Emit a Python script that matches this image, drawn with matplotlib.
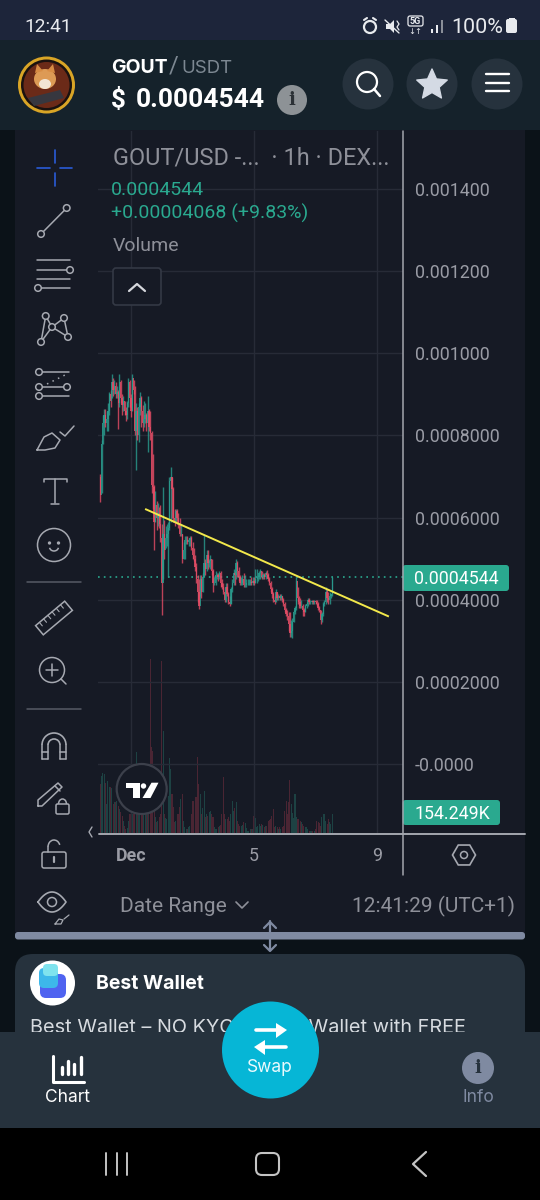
import matplotlib
matplotlib.use("Agg")
import matplotlib.pyplot as plt
from matplotlib.patches import Circle, FancyBboxPatch, Polygon, Rectangle, Ellipse, Arc, RegularPolygon
import numpy as np

W, H = 540, 1200

# prices in units of 0.0001, one candle per hour starting 30 Nov
highs = [7.07,7.9,8.5,8.65,8.65,8.6,8.8,9.05,9.1,9.5,
         9.4,9.35,9.3,9.2,9.1,9.5,9.35,9.0,8.95,8.85,
         8.7,8.85,9.4,9.35,9.0,9.5,9.35,9.2,8.8,8.7,
         8.8,9.05,8.95,8.75,8.85,8.8,8.55,8.95,8.65,8.6,
         8.1,7.55,6.8,6.65,6.4,6.35,6.25,6.3,5.85,6.75,
         5.95,5.8,5.85,5.9,7.0,7.23,7.0,6.75,6.2,6.2,
         6.2,6.1,6.0,5.85,5.6,5.4,5.55,5.55,5.55,5.5,
         5.55,5.55,5.4,5.25,5.1,4.9,4.6,4.5,4.6,4.6,
         4.65,5.58,5.0,5.2,5.2,5.0,5.1,5.0,4.75,4.55,
         4.7,4.65,4.65,4.7,4.7,4.5,4.4,4.3,4.4,4.4,
         4.2,4.1,4.3,4.5,4.75,4.7,5.0,4.95,4.8,4.6,
         4.55,4.6,4.65,4.6,4.5,4.5,4.5,4.5,4.55,4.55,
         4.55,4.75,4.75,4.6,4.7,4.75,4.7,4.65,4.65,4.7,
         4.72,4.65,4.55,4.45,4.3,4.2,4.1,4.25,4.2,4.15,
         4.15,4.15,4.1,4.05,3.95,3.8,3.75,3.7,3.7,3.5,
         3.55,3.75,3.85,4.55,4.3,4.1,4.05,4.0,3.9,3.8,
         3.9,3.95,4.05,4.05,4.0,4.0,4.0,4.0,4.0,4.0,
         3.95,3.85,3.75,3.7,3.95,4.0,4.3,4.25,4.2,4.2,
         4.15,4.55]
lows = [6.38,6.6,7.8,8.0,8.2,8.1,8.1,8.5,8.7,8.9,
        8.95,9.0,8.9,8.9,8.15,8.7,8.8,8.5,8.6,8.5,
        8.35,8.4,8.7,8.7,8.45,8.6,9.0,8.0,7.15,7.9,
        7.85,8.5,8.2,8.1,8.2,8.3,8.1,7.6,8.1,7.9,
        6.6,6.2,5.2,5.9,5.7,5.8,5.75,5.4,3.63,4.5,
        5.0,5.25,5.3,4.56,5.7,5.9,6.0,5.9,5.8,5.9,
        5.85,5.75,5.55,5.55,4.9,5.0,5.0,5.35,5.35,5.3,
        5.3,5.2,5.0,4.95,4.7,4.4,3.95,3.78,4.1,4.05,
        4.2,4.55,4.6,4.7,4.75,4.8,4.75,4.6,4.2,4.35,
        4.35,4.5,4.45,4.5,4.3,4.25,4.15,3.95,3.95,4.1,
        3.9,3.85,3.9,4.2,4.35,4.35,4.5,4.55,4.45,4.35,
        4.35,4.35,4.3,4.3,4.3,4.35,4.35,4.35,4.35,4.35,
        4.35,4.4,4.4,4.45,4.5,4.5,4.5,4.5,4.5,4.5,
        4.55,4.45,4.35,4.2,4.05,3.95,3.9,3.95,4.0,4.0,
        4.0,4.0,3.95,3.85,3.7,3.6,3.5,3.25,3.1,3.1,
        3.08,3.45,3.65,3.75,3.9,3.8,3.8,3.8,3.6,3.6,
        3.7,3.8,3.85,3.9,3.9,3.9,3.9,3.9,3.9,3.85,
        3.75,3.7,3.4,3.45,3.6,3.85,3.9,3.95,3.9,3.9,
        4.05,4.1]
closes = [6.55,7.8,8.3,8.5,8.3,8.4,8.6,9.0,8.85,9.3,
          9.1,9.2,9.0,9.05,8.8,9.3,8.9,8.75,8.85,8.6,
          8.5,8.8,9.3,8.9,8.6,9.4,9.1,8.1,8.6,8.0,
          8.7,8.9,8.6,8.3,8.4,8.5,8.3,8.6,8.2,8.05,
          6.8,6.75,5.9,6.3,6.0,6.1,5.85,5.5,4.4,5.6,
          5.2,5.5,5.6,5.75,6.9,7.0,6.7,6.0,5.9,6.15,
          6.0,5.85,5.6,5.6,5.0,5.2,5.45,5.45,5.4,5.45,
          5.5,5.25,5.1,5.0,4.8,4.5,4.2,3.85,4.5,4.2,
          4.55,4.9,4.75,5.1,4.9,4.95,5.0,4.7,4.4,4.4,
          4.6,4.6,4.55,4.65,4.4,4.3,4.2,4.0,4.3,4.15,
          3.95,3.9,4.25,4.4,4.65,4.6,4.9,4.7,4.55,4.4,
          4.4,4.5,4.35,4.35,4.4,4.4,4.4,4.42,4.4,4.45,
          4.4,4.5,4.5,4.55,4.65,4.7,4.55,4.6,4.55,4.65,
          4.6,4.5,4.4,4.25,4.15,4.0,3.95,4.2,4.05,4.1,
          4.05,4.1,4.0,3.9,3.75,3.65,3.6,3.4,3.2,3.25,
          3.45,3.7,3.8,4.45,4.05,3.95,3.85,3.85,3.75,3.7,
          3.85,3.9,4.0,3.95,3.95,3.97,3.95,3.97,3.95,3.9,
          3.8,3.75,3.5,3.65,3.9,3.95,4.2,4.05,4.0,4.1,
          4.137,4.544]
first_open = 7.0

# volume in thousands
volumes = [392,459,480,470,400,232,420,370,365,360,
           230,245,250,260,220,190,165,140,100,60,
           35,40,100,150,150,150,150,160,645,150,
           150,150,150,150,150,150,150,150,200,1392,
           685,660,300,125,85,100,130,150,1380,820,
           150,120,115,300,600,510,310,205,85,95,
           150,150,205,270,315,100,45,30,30,45,
           60,150,260,260,285,290,605,390,310,150,
           200,335,125,150,140,170,180,150,125,45,
           35,30,45,55,65,150,445,150,110,110,
           125,100,150,260,180,200,245,100,70,60,
           60,65,85,80,40,20,20,30,35,30,
           140,120,45,55,75,60,70,65,45,55,
           60,95,105,110,140,190,50,60,50,35,
           45,35,45,60,180,255,155,250,425,230,
           160,120,310,125,115,110,100,90,75,60,
           50,45,30,20,20,20,20,20,30,95,
           90,80,60,125,150,155,100,70,110,90,
           70,154.249]

price_ticks = [0.0014, 0.0012, 0.0010, 0.0008, 0.0006, 0.0004, 0.0002, 0.0]
price_labels = ["0.001400", "0.001200", "0.001000", "0.0008000", "0.0006000",
                "0.0004000", "0.0002000", "-0.0000"]
date_ticks = [24, 120, 216]
date_labels = ["Dec", "5", "9"]
trend_x = [35.7, 224.6]
trend_y = [6.2, 3.6]

BG = "#161a25"
GREEN = "#2a9d8f"
RED = "#e54d66"
GRID = "#272b37"
ICON = "#a6a9b1"
GREY_TXT = "#8e9099"
AXIS_TXT = "#9a9ca5"
TEAL = "#2aa98f"
PANEL = "#26323d"
SANS = ["Roboto", "DejaVu Sans"]
ROUND = ["Inter", "DejaVu Sans"]

plt.rcParams["font.family"] = SANS

fig = plt.figure(figsize=(W / 100, H / 100), dpi=100, facecolor="#0b1218")


def overlay(z):
    a = fig.add_axes([0, 0, 1, 1], zorder=z)
    a.set_xlim(0, W)
    a.set_ylim(H, 0)
    a.axis("off")
    return a


ui = overlay(0)
top = overlay(5)


def line(pts, color=ICON, lw=1.1, a=ui, z=5, **kw):
    xs, ys = zip(*pts)
    a.plot(xs, ys, color=color, lw=lw, solid_capstyle="round", zorder=z, **kw)


def ring(x, y, r, color=ICON, lw=1.1, fill="none", a=ui, z=6):
    a.add_patch(Circle((x, y), r, fc=fill, ec=color, lw=lw, zorder=z))


def box(x0, y0, x1, y1, color, rad=0, a=ui, z=1, ec="none", lw=0):
    if rad:
        a.add_patch(FancyBboxPatch((x0 + rad, y0 + rad), x1 - x0 - 2 * rad, y1 - y0 - 2 * rad,
                                   boxstyle="round,pad=%f,rounding_size=%f" % (rad, rad),
                                   fc=color, ec=ec, lw=lw, zorder=z))
    else:
        a.add_patch(Rectangle((x0, y0), x1 - x0, y1 - y0, fc=color, ec=ec, lw=lw, zorder=z))


def label(x, y, s, size, color="white", a=ui, ha="left", family=None, weight="normal", z=8):
    # va center sits a bit high for these fonts
    a.text(x, y + 1.3, s, fontsize=size, color=color, ha=ha, va="center", zorder=z,
           family=family or SANS, fontweight=weight)


# page blocks
box(0, 0, W, 40, "#1d253a")
box(0, 40, W, 130, "#15222b", z=2)
box(15, 130, 525, 934, BG)
box(15, 932, 525, 939.5, "#7f8aa1", rad=3, z=2)
box(15, 954, 525, 1060, PANEL, rad=18, z=1)
box(0, 1032, W, 1128, PANEL, z=4)
box(0, 1128, W, H, "black", z=4)

# status bar
label(24, 26, "12:41", 13.8, "#e8eaee")
label(451, 26, "100%", 15.4, "#e8eaee")
box(506, 19, 517, 33, "#e8eaee", rad=2, z=5)
box(508.5, 17.5, 514.5, 20, "#e8eaee", z=5)
ring(370, 27, 6, "#e8eaee", 1.6)
line([(364, 20), (367, 18)], "#e8eaee", 1.5)
line([(373, 18), (376, 20)], "#e8eaee", 1.5)
ui.add_patch(Polygon([(386, 24), (390, 24), (394, 20), (394, 33), (390, 29), (386, 29)], fc="#e8eaee", zorder=5))
line([(385, 20), (399, 33)], "#e8eaee", 1.0)
line([(397, 21), (399, 24), (397, 27), (399, 30)], "#e8eaee", 0.9)
box(408, 16, 423, 26, "none", rad=2, ec="#e8eaee", lw=0.9, z=5)
label(415.5, 20, "5G", 6.5, "#e8eaee", ha="center", weight="bold")
label(415.5, 30, "↓↑", 6, "#e8eaee", ha="center", family=["DejaVu Sans"])
for i, (bx, bh) in enumerate(zip([431, 436, 441], [4, 8, 13])):
    box(bx, 33 - bh, bx + 2, 33, "#e8eaee" if i < 2 else "#8a8f99", z=5)

# header
ring(46.5, 85, 28.5, "#d9a526", 0, "#d9a526")
ring(46.5, 85, 25.5, "#111111", 0, "#1a1210")
ring(46.5, 85, 23, "#6b2a18", 0, "#6b2a18")
ui.add_patch(Ellipse((45, 79), 22, 20, fc="#dd9a55", zorder=7))
ui.add_patch(Ellipse((45, 84), 12, 10, fc="#f3e6d4", zorder=8))
ui.add_patch(Polygon([(35, 73), (37, 64), (43, 71)], fc="#d88c45", zorder=7))
ui.add_patch(Polygon([(47, 71), (53, 64), (55, 73)], fc="#d88c45", zorder=7))
ui.add_patch(Polygon([(28, 98), (60, 90), (64, 98), (34, 106)], fc="#37373f", zorder=8))

label(111, 67, "GOUT", 14, "white", family=ROUND, weight="bold")
label(169, 65, "/", 17, "#7d8892")
label(181, 67, "USDT", 13.4, "#7d8892", family=ROUND)
label(111, 99, "$", 18.6, "white", weight="bold")
label(136, 99, "0.0004544", 19, "white", weight="bold")
ring(292, 100, 15, "#8d9296", 0, "#8d9296")
label(292, 99, "i", 13, "#2b3136", ha="center", family=["DejaVu Serif"], weight="bold")
for cx in [368, 432, 497]:
    ring(cx, 84, 25.5, PANEL, 0, PANEL, z=3)
ring(367, 82, 10, "white", 1.6)
line([(374, 89), (380, 96)], "white", 1.8)
star_a = np.deg2rad(np.arange(-90, 270, 36))
star_r = np.where(np.arange(10) % 2 == 0, 16, 7.5)
ui.add_patch(Polygon(np.c_[432 + star_r * np.cos(star_a), 85 + star_r * np.sin(star_a)],
                     fc="#d4dae4", ec="#d4dae4", lw=1, joinstyle="round", zorder=6))
for hy in [74, 82.5, 91]:
    line([(486, hy), (509, hy)], "white", 1.7)

# price pane, sharing pixel position with the volume pane
px_l, px_r, px_t, px_b = 98, 402.5, 131, 833
rect = [px_l / W, 1 - px_b / H, (px_r - px_l) / W, (px_b - px_t) / H]
per_hour = 123 / 96
idx_left = (px_l - 131) / per_hour + 24
idx_right = (px_r - 131) / per_hour + 24
per_price = 575 / 0.0014

ax = fig.add_axes(rect, zorder=2)
ax.patch.set_visible(False)
ax.set_xlim(idx_left, idx_right)
ax.set_ylim((764 - px_b) / per_price, (764 - px_t) / per_price)
for s in ax.spines.values():
    s.set_visible(False)
ax.yaxis.tick_right()
ax.set_yticks(price_ticks)
ax.set_yticklabels(price_labels)
ax.set_xticks(date_ticks)
ax.set_xticklabels(date_labels)
ax.get_xticklabels()[0].set_fontweight("bold")
ax.tick_params(axis="y", length=0, pad=9, labelsize=12.8, labelcolor=AXIS_TXT)
ax.tick_params(axis="x", length=0, pad=10, labelsize=12.8, labelcolor=AXIS_TXT)
ax.grid(True, color=GRID, lw=1.0)
ax.set_axisbelow(True)

hi = np.array(highs) * 1e-4
lo = np.array(lows) * 1e-4
cl = np.array(closes) * 1e-4
op = np.r_[first_open * 1e-4, cl[:-1]]
hours = np.arange(len(cl))
colors = [GREEN if c >= o else RED for o, c in zip(op, cl)]

ax.vlines(hours, lo, hi, colors=colors, lw=1.0, alpha=0.8, zorder=3)
ax.bar(hours, np.abs(cl - op), bottom=np.minimum(op, cl), width=1.0, color=colors, alpha=0.85, zorder=3)
ax.plot(trend_x, np.array(trend_y) * 1e-4, color="#f2e84b", lw=1.4, zorder=4)
ax.axhline(cl[-1], color=TEAL, lw=1.2, ls=(0, (1, 2.5)), zorder=2)

vol = fig.add_axes(rect, zorder=1)
vol.patch.set_visible(False)
vol.axis("off")
vol.set_xlim(idx_left, idx_right)
vol.set_ylim(0, (px_b - px_t) * 8)
vol_colors = ["#1d4243" if c >= o else "#4a2533" for o, c in zip(op, cl)]
vol.bar(hours, volumes, width=0.8, color=vol_colors)

# legend text over the chart
label(113, 157, "GOUT/USD -...  · 1h · DEX...", 16.9, GREY_TXT, a=top)
label(111, 189, "0.0004544", 14, TEAL, a=top)
label(111, 212, "+0.00004068 (+9.83%)", 14, TEAL, a=top)
label(113, 245, "Volume", 14, GREY_TXT, a=top)
box(113, 268, 161, 305, BG, rad=3, a=top, ec="#343945", lw=1.2)
line([(129, 291), (137, 284), (145, 291)], "#d5d7dc", 1.6, a=top, z=9)

# axis lines
line([(402.7, 131), (402.7, 875)], "#a3a6ae", 1.1, a=top)
line([(99, 833.5), (525, 833.5)], "#a3a6ae", 1.4, a=top)

# value tags
box(402.7, 565, 509, 591, TEAL, rad=3, a=top)
label(414, 577.5, "0.0004544", 12.8, "white", a=top)
box(402.7, 800, 500, 825, TEAL, rad=3, a=top)
label(414, 812.5, "154.249K", 12.8, "white", a=top)

# tradingview badge
ring(141.7, 789, 25, "#3c404b", 1.6, BG, a=top, z=7)
top.add_patch(Polygon([(126, 782.7), (140, 782.7), (140, 798), (133, 798), (133, 788), (126, 788)], fc="white", zorder=8))
ring(143.5, 786, 2.7, "white", 0, "white", a=top, z=8)
top.add_patch(Polygon([(142.5, 798), (150.5, 798), (158.5, 782.7), (151.5, 782.7)], fc="white", zorder=8))
line([(92, 827), (89, 832), (92, 837)], ICON, 1.0, a=top)

# toolbar, crosshair
BLUE = "#2a5bd7"
for seg in [[(54.7, 150), (54.7, 163)], [(54.7, 173), (54.7, 186)],
            [(37, 168), (50, 168)], [(59.5, 168), (72, 168)]]:
    line(seg, BLUE, 1.2)
# trend line
line([(41, 234), (66.7, 208)])
ring(66.7, 208, 3.3, fill=BG)
ring(41, 234, 3.3, fill=BG)
# parallel lines
line([(37, 260), (70, 260)])
line([(37, 270), (67, 270)])
ring(70, 270, 3.3, fill=BG)
line([(37, 279), (70, 279)])
line([(38, 288), (70, 288)])
ring(38, 288, 3.3, fill=BG)
# pattern
pp = [(41, 342), (45.7, 316), (52, 327), (64, 318), (68, 337), (52, 327), (41, 342)]
line(pp)
for p in pp[:5]:
    ring(p[0], p[1], 3.3, fill=BG)
# forecast
line([(39, 372), (69, 372)])
ring(39, 372, 3.3, fill=BG)
line([(47, 384), (65, 375)], ls=(0, (1, 3)))
line([(39, 387), (67, 387)])
ring(39, 387, 3.3, fill=BG)
ring(67, 387, 3.3, fill=BG)
line([(39, 396), (69, 396)])
ring(39, 396, 3.3, fill=BG)
# brush
line([(37, 450), (44, 437), (52, 433), (60, 440), (55, 448), (45, 450), (37, 450)])
line([(60, 432), (65, 436), (74, 426)])
# text tool
line([(44, 482), (44, 479), (67, 479), (67, 482)])
line([(55, 479), (55, 503)])
line([(51, 504), (59, 504)])
# smile
ring(54, 545, 16.5)
ring(49.5, 543, 0.9, fill=ICON)
ring(58.5, 543, 0.9, fill=ICON)
ui.add_patch(Arc((54, 547), 9, 8, theta1=10, theta2=170, ec=ICON, lw=1.1, zorder=6))
line([(27, 581.5), (81, 581.5)], "#565a65", 1.1)
# ruler
ui.add_patch(Rectangle((-19, -6), 38, 12, fc="none", ec=ICON, lw=1.1, zorder=6,
                       transform=matplotlib.transforms.Affine2D().rotate_deg(-40).translate(54, 618) + ui.transData))
for t in np.arange(-14, 18, 5.5):
    c, s = np.cos(np.deg2rad(-40)), np.sin(np.deg2rad(-40))
    line([(54 + t * c + 6 * s, 618 + t * s - 6 * c), (54 + t * c + 1.5 * s, 618 + t * s - 1.5 * c)], lw=0.8)
# zoom in
ring(52, 670, 12.5)
line([(46, 670), (58, 670)])
line([(52, 664), (52, 676)])
line([(61, 679), (66, 684)])
line([(27, 709), (81, 709)], "#565a65", 1.1)
# magnet
ui.add_patch(Arc((54, 745), 24, 24, theta1=180, theta2=360, ec=ICON, lw=1.2, zorder=6))
ui.add_patch(Arc((54, 745), 12, 12, theta1=180, theta2=360, ec=ICON, lw=1.2, zorder=6))
for mx in [42, 48, 60, 66]:
    line([(mx, 745), (mx, 759)])
line([(42, 759), (48, 759)])
line([(60, 759), (66, 759)])
line([(42, 752), (48, 752)])
line([(60, 752), (66, 752)])
# pencil with lock
line([(38, 806), (38, 800), (58, 783), (62, 787), (42, 806), (38, 806)])
line([(55, 786), (60, 791)])
box(56, 804, 69, 814, BG, rad=1.5, ec=ICON, lw=1.1, z=7)
ui.add_patch(Arc((62.5, 804), 8, 10, theta1=180, theta2=360, ec=ICON, lw=1.1, zorder=7))
# open lock
box(42, 852, 66, 868, "none", rad=2, ec=ICON, lw=1.1, z=6)
ui.add_patch(Arc((54, 847), 12, 14, theta1=180, theta2=340, ec=ICON, lw=1.1, zorder=6))
line([(48, 847), (48, 852)])
line([(54, 857), (54, 862)], lw=1.6)
# eye
eye_x = np.linspace(-1, 1, 31)
eye_y = 10 * (1 - eye_x ** 2)
line(list(zip(52 + 14 * eye_x, 902 - eye_y)) + list(zip(52 - 14 * eye_x, 902 + eye_y[::-1])), lw=1.2)
ring(52, 902, 4.5)
line([(55, 924), (59, 919), (63, 920), (61, 924), (55, 924)], lw=0.9)
line([(64, 919), (69, 915)], lw=0.9)

# bottom of the chart
label(120, 905, "Date Range", 15, GREY_TXT, a=top)
line([(236, 902), (242, 908), (248, 902)], GREY_TXT, 1.2, a=top)
label(515, 905, "12:41:29 (UTC+1)", 15, GREY_TXT, a=top, ha="right")
top.add_patch(RegularPolygon((464, 855), 6, radius=11.5, orientation=np.pi / 2, fc="none", ec=ICON, lw=1.2))
ring(464, 855, 3.5, a=top)

# divider handle
line([(270, 921), (270, 950)], "#7f8aa1", 1.6, a=top)
line([(264, 928), (270, 922), (276, 928)], "#7f8aa1", 1.6, a=top)
line([(264, 945), (270, 951), (276, 945)], "#7f8aa1", 1.6, a=top)

# ad card
ring(52.5, 983, 22.5, "white", 0, "white", z=2)
box(40, 974, 66, 998, "#4f63f0", rad=6, z=3)
box(39, 968, 58, 988, "#3db8ea", rad=5, z=3)
box(43, 964, 58, 976, "#7fe3ee", rad=4, z=3)
label(96, 983, "Best Wallet", 14, "white", family=ROUND, weight="bold")
label(30, 1027, "Best Wallet – NO KYC Crypto Wallet with FREE", 14.3, "#d7dbe0", family=ROUND, z=2)

# bottom navigation
ring(270.5, 1050, 48.5, "#06b6d6", 0, "#06b6d6", z=6)
line([(256, 1030), (282, 1030)], "white", 2.6, z=7)
top.add_patch(Polygon([(276, 1023), (287, 1030), (276, 1038)], fc="white", zorder=8))
line([(259, 1047), (286, 1047)], "white", 2.6, z=7)
top.add_patch(Polygon([(265, 1040), (254, 1047), (265, 1055)], fc="white", zorder=8))
label(270, 1066, "Swap", 12.5, "#eafafd", ha="center", family=ROUND)

line([(53, 1056), (53, 1082), (84, 1082)], "white", 2.2)
for bx, bt in zip([62, 68, 74, 81], [1067, 1061, 1064, 1057]):
    line([(bx, bt), (bx, 1074)], "white", 2.4)
label(68, 1096, "Chart", 12.5, "white", ha="center", family=ROUND)
ring(478, 1068, 16, "#7f8aa1", 0, "#7f8aa1")
label(478, 1067, "i", 13, "#26323d", ha="center", family=["DejaVu Serif"], weight="bold")
label(478, 1096, "Info", 12.5, "#7f8aa1", ha="center", family=ROUND)

# android navigation
for nx in [106, 116.5, 127]:
    line([(nx, 1153), (nx, 1175)], "#c4c4c4", 1.4)
box(256, 1153, 279, 1175, "none", rad=6, ec="#c4c4c4", lw=1.5, z=5)
line([(426, 1152), (413, 1164), (426, 1176)], "#c4c4c4", 1.6)

fig.savefig("out.png", dpi=100, facecolor=fig.get_facecolor())
